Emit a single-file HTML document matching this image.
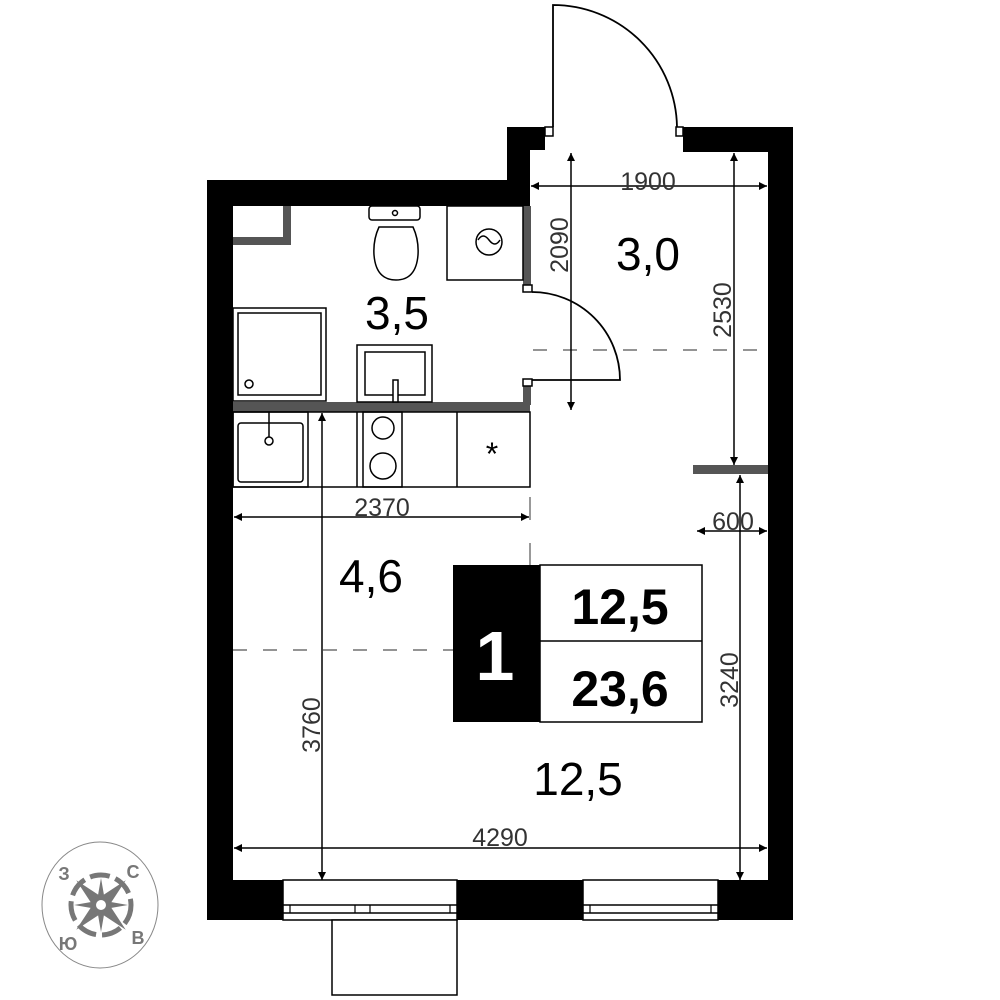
<!DOCTYPE html>
<html><head><meta charset="utf-8"><style>html,body{margin:0;padding:0;background:#fff}svg{display:block}</style></head><body>
<svg width="1000" height="1000" viewBox="0 0 1000 1000" xmlns="http://www.w3.org/2000/svg" font-family="'Liberation Sans', sans-serif">
<defs>
<marker id="a" viewBox="0 0 10 10" refX="10" refY="5" markerWidth="16" markerHeight="8" markerUnits="userSpaceOnUse" orient="auto-start-reverse"><path d="M0,0 L10,5 L0,10 z" fill="#000"/></marker>
</defs>
<g fill="#000">
<rect x="207" y="180" width="26" height="740"/>
<rect x="207" y="180" width="323" height="26"/>
<rect x="507" y="127" width="38" height="23"/>
<rect x="507" y="127" width="23" height="79"/>
<rect x="683" y="127" width="110" height="25"/>
<rect x="768" y="127" width="25" height="793"/>
<rect x="207" y="880" width="586" height="40"/>
</g>
<g fill="#fff" stroke="#000" stroke-width="1.5">
<rect x="545" y="127" width="8" height="9"/>
<rect x="676" y="127" width="7" height="9"/>
</g>
<path d="M553,127 V5 A124,124 0 0 1 677,127" fill="none" stroke="#000" stroke-width="1.8"/>
<g fill="#555">
<rect x="523" y="206" width="8" height="80"/>
<rect x="523" y="385" width="8" height="20"/>
<rect x="233" y="402" width="297" height="10"/>
<rect x="283" y="206" width="8" height="39"/>
<rect x="233" y="237" width="58" height="8"/>
<rect x="693" y="465" width="75" height="9"/>
</g>
<g fill="#fff" stroke="#000" stroke-width="1.5">
<rect x="523" y="285" width="9" height="7"/>
<rect x="523" y="379" width="9" height="7"/>
</g>
<path d="M532,292 A88,88 0 0 1 620,380 H532" fill="none" stroke="#000" stroke-width="1.8"/>
<g fill="none" stroke="#000" stroke-width="1.5">
<rect x="369" y="206" width="51" height="14" rx="3"/>
<circle cx="395" cy="213" r="2.5"/>
<path d="M379,227 Q373,240 374,255 Q376,280 396,280 Q416,280 418,255 Q419,240 413,227 Z"/>
<rect x="447" y="206" width="76" height="74"/>
<circle cx="489" cy="242" r="13"/>
<path d="M478,240 q5,-8 11,0 t11,0"/>
<rect x="233" y="308" width="93" height="93"/>
<rect x="238" y="313" width="83" height="82"/>
<circle cx="249" cy="384" r="4"/>
<rect x="357" y="345" width="75" height="57"/>
<rect x="365" y="352" width="60" height="43"/>
<rect x="393" y="380" width="5" height="22" fill="#fff"/>
<rect x="233" y="412" width="297" height="75"/>
<rect x="233" y="412" width="75" height="75"/>
<rect x="238" y="423" width="65" height="59" rx="3"/>
<line x1="269" y1="412" x2="269" y2="438"/>
<circle cx="269" cy="441" r="4" fill="#fff"/>
<line x1="357" y1="412" x2="357" y2="487"/>
<rect x="363" y="412" width="39" height="75"/>
<circle cx="383" cy="428" r="11"/>
<circle cx="383" cy="466" r="13"/>
<line x1="457" y1="412" x2="457" y2="487"/>
</g>
<text x="492" y="465" font-size="32" text-anchor="middle">*</text>
<g stroke="#555" stroke-width="1.2" stroke-dasharray="14,16" fill="none">
<line x1="533" y1="350" x2="768" y2="350"/>
<line x1="233" y1="650" x2="453" y2="650"/>
</g>
<line x1="530" y1="497" x2="530" y2="520" stroke="#555" stroke-width="1.2"/>
<line x1="530" y1="543" x2="530" y2="565" stroke="#555" stroke-width="1.2"/>
<g stroke="#000" stroke-width="1.5" marker-start="url(#a)" marker-end="url(#a)">
<line x1="531" y1="186" x2="767" y2="186"/>
<line x1="571" y1="153" x2="571" y2="410"/>
<line x1="734" y1="153" x2="734" y2="465"/>
<line x1="740" y1="475" x2="740" y2="880"/>
<line x1="234" y1="517" x2="529" y2="517"/>
<line x1="322" y1="413" x2="322" y2="880"/>
<line x1="234" y1="848" x2="767" y2="848"/>
<line x1="697" y1="531" x2="767" y2="531"/>
</g>
<g fill="#333" font-size="25">
<text x="648" y="190" text-anchor="middle">1900</text>
<text x="382" y="516" text-anchor="middle">2370</text>
<text x="500" y="846" text-anchor="middle">4290</text>
<text x="733" y="530" text-anchor="middle">600</text>
<text transform="translate(568,245) rotate(-90)" text-anchor="middle">2090</text>
<text transform="translate(731,310) rotate(-90)" text-anchor="middle">2530</text>
<text transform="translate(738,680) rotate(-90)" text-anchor="middle">3240</text>
<text transform="translate(320,725) rotate(-90)" text-anchor="middle">3760</text>
</g>
<g font-size="46" text-anchor="middle" fill="#000">
<text x="397" y="329">3,5</text>
<text x="648" y="270">3,0</text>
<text x="371" y="592">4,6</text>
<text x="578" y="795">12,5</text>
</g>
<rect x="453" y="565" width="87" height="157" fill="#000"/>
<rect x="540" y="565" width="162" height="157" fill="#fff" stroke="#000" stroke-width="1.5"/>
<line x1="540" y1="641" x2="702" y2="641" stroke="#000" stroke-width="1.5"/>
<text x="495" y="680" font-size="70" font-weight="bold" fill="#fff" text-anchor="middle">1</text>
<text x="620" y="624" font-size="50" font-weight="bold" text-anchor="middle">12,5</text>
<text x="620" y="706" font-size="50" font-weight="bold" text-anchor="middle">23,6</text>
<g fill="#fff" stroke="#000" stroke-width="1.5">
<rect x="283" y="880" width="174" height="40"/>
<rect x="583" y="880" width="135" height="40"/>
<rect x="283" y="905" width="174" height="8"/>
<rect x="583" y="905" width="135" height="8"/>
<rect x="332" y="920" width="125" height="75"/>
</g>
<g stroke="#000" stroke-width="1.2">
<line x1="290" y1="905" x2="290" y2="913"/><line x1="450" y1="905" x2="450" y2="913"/>
<line x1="355" y1="905" x2="355" y2="913"/><line x1="370" y1="905" x2="370" y2="913"/>
<line x1="590" y1="905" x2="590" y2="913"/><line x1="711" y1="905" x2="711" y2="913"/>
</g>
<g>
<ellipse cx="100" cy="905" rx="58" ry="63" fill="none" stroke="#888" stroke-width="1"/>
<circle cx="101" cy="905" r="30" fill="none" stroke="#777" stroke-width="5" stroke-dasharray="20,6"/>
<path d="M101,870 L107,899 L136,905 L107,911 L101,940 L95,911 L66,905 L95,899 Z" fill="#777" transform="rotate(45 101 905)"/>
<path d="M101,878 L105,901 L128,905 L105,909 L101,932 L97,909 L74,905 L97,901 Z" fill="#777"/>
<circle cx="101" cy="905" r="7" fill="#fff" stroke="#777" stroke-width="4"/>
<g fill="#777" font-size="18" font-weight="bold" text-anchor="middle">
<text x="64" y="880">З</text><text x="133" y="878">С</text>
<text x="68" y="950">Ю</text><text x="138" y="944">В</text>
</g>
</g>
</svg>
</body></html>
